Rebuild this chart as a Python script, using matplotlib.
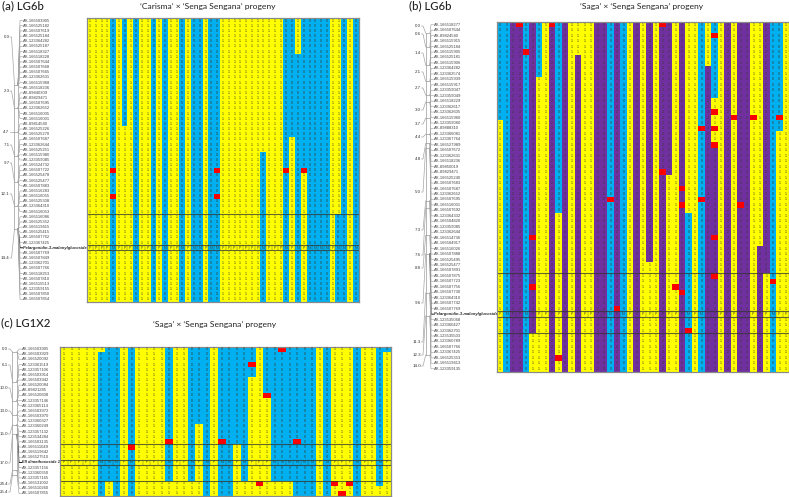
import numpy as np
import matplotlib
matplotlib.use('Agg')
import matplotlib.pyplot as plt
from matplotlib.colors import ListedColormap

plt.rcParams['font.family'] = ['Liberation Sans', 'DejaVu Sans']

# (a) 'Carisma' x 'Senga Sengana', LG6b
a_markers = ['166503905', '166525182', '166507619', '166525184', '123364282', '166525187', '166518327',
             '166518228', '166507644', '166507668', '166507665', '123362631', '166515968', '166518236',
             '89840309', '89829471', '166507695', '123362652', '166516005', '166516001', '89814540',
             '166525226', '166525270', '166507687', '123362644', '166525251', '166515980', '123359085',
             '166524732', '166507722', '166525478', '166525477', '166507883', '166516283', '166516055',
             '166525308', '123364310', '166516053', '166516086', '166525352', '166519415', '166525415',
             '166507762', '123367425', 'Pelargonidin-3-malonylglucoside 1', '166507769', '166507849',
             '123362701', '166507766', '166518253', '166507810', '166515513', '123359155', '166507850',
             '166507854']
a_top = '11110101011010110100100' + '11111111111' + '0010000011010'
a_switch = [(6, 21, 1), (30, 26, 0), (35, 23, 1), (36, 7, 0), (37, 30, 1), (43, 38, 0)]
a_missing = [(4, 29), (4, 34), (22, 29), (22, 34), (34, 29), (37, 29)]
a_cm = ['0.0', '2.3', '4.7', '7.1', '9.7', '12.1', '14.4']
a_cm_y = [37, 91, 132, 145, 163, 194, 258]
a_cm_first = [0, 14, 20, 23, 28, 33, 38]
a_rules = [38, 44, 45]

# (b) 'Saga' x 'Senga Sengana', LG6b
b_markers = ['166518277', '166507644', '89824540', '166515915', '166525184', '166515905', '166525181',
             '166515906', '123364282', '123362574', '166515939', '166515917', '123359047', '123359049',
             '166518229', '123362617', '123362605', '166515960', '123359060', '89888310', '123366081',
             '123367764', '166527989', '166507672', '123362631', '166518236', '89850019', '89829471',
             '166525240', '166507683', '166507687', '123362652', '166507695', '166516001', '166507692',
             '123364302', '166504820', '123359085', '123362644', '166514736', '166504917', '166516026',
             '166507888', '166525495', '166525477', '166507891', '166507875', '166507723', '166507756',
             '166507730', '123364310', '166507742', '166507769', 'Pelargonidin-3-malonylglucoside 1',
             '123535068', '123360427', '123362701', '123535503', '123360789', '166507766', '123367425',
             '166525353', '166519413', '123359135']
b_top = '0022020120' + '2111122020' + '1212122121' + '1010121221' + '12001'
b_switch = [(0, 18, 1), (6, 10, 1), (9, 35, 1), (12, 6, 2), (23, 44, 1), (26, 28, 1), (29, 35, 0), (32, 8, 2),
            (33, 14, 1), (33, 23, 2), (40, 41, 2), (41, 46, 1), (43, 20, 1), (5, 57, 1)]
b_missing = [(3, 0), (8, 0), (4, 5), (25, 0), (33, 2), (33, 16), (36, 17), (39, 17), (43, 17), (31, 19), (33, 19),
             (33, 22), (25, 27), (28, 30), (17, 32), (31, 32), (28, 33), (37, 33), (5, 39), (33, 39), (33, 46),
             (42, 47), (5, 48), (27, 48), (28, 49), (18, 52), (29, 56), (9, 61)]
b_cm = ['0.0', '0.6', '1.4', '2.1', '2.7', '3.0', '3.7', '4.4', '4.8', '5.0', '7.3', '7.6', '8.8', '9.6', '11.3',
        '12.3', '14.0']
b_cm_y = [26, 34, 53, 72, 88, 110, 124, 137, 159, 192, 230, 255, 268, 303, 342, 355, 366]
b_cm_first = [0, 1, 3, 8, 11, 15, 18, 19, 23, 29, 37, 43, 44, 47, 56, 60, 63]
b_rules = [46, 53, 54, 57]

# (c) 'Saga' x 'Senga Sengana', LG1X2
c_markers = ['166503905', '166503929', '166520092', '123361519', '123357106', '166503914', '166503942',
             '166520084', '89821285', '166520608', '123357146', '123365114', '166503972', '166503970',
             '123360327', '123360249', '123357132', '123534284', '166503135', '166511049', '166519642',
             '166527510', 'Ell dimethoxoside 1', '123357156', '123360350', '123357165', '166531002',
             '166510260', '166507855']
c_top = '111111' + '00' + '1' + '0' + '1111' + '0' + '11' + '000' + '1' + '00000' + '1' + '0000000' + '1' + '0' + '111' + '0' + '11' + '00'
c_switch = [(5, 1, 0), (18, 15, 1), (23, 19, 1), (25, 6, 1), (27, 10, 1), (14, 26, 1), (17, 26, 1), (6, 26, 1),
            (24, 26, 1), (28, 26, 1), (29, 26, 1), (30, 26, 1), (42, 27, 1), (43, 1, 1)]
c_missing = [(29, 0), (25, 3), (27, 9), (14, 18), (21, 18), (31, 18), (9, 19), (26, 26), (36, 26), (38, 26), (37, 28)]
c_cm = ['0.0', '6.1', '10.0', '13.0', '15.0', '17.0', '24.4', '25.4']
c_cm_y = [349, 365, 388, 411, 434, 463, 484, 492]
c_cm_first = [0, 3, 7, 12, 15, 19, 26, 28]
c_rules = [19, 22, 23, 26]

W, H = 789, 497
fig = plt.figure(figsize=(W / 100, H / 100), dpi=100)
over = fig.add_axes([0, 0, 1, 1])
over.set_xlim(0, W)
over.set_ylim(H, 0)
over.axis('off')

cmap = ListedColormap(['#00B0F0', '#FFFF00', '#7030A0', '#FF0000'])


def make_grid(top, switch, missing, nrows):
    grid = np.array([[int(v) for v in top]] * nrows)
    for col, row, val in switch:
        grid[row:, col] = val
    for col, row in missing:
        grid[row, col] = 3
    return grid


def draw_panel(box, top, switch, missing, markers, rules):
    x0, y0, x1, y1 = box
    nrows = len(markers)
    ncols = len(top)
    grid = make_grid(top, switch, missing, nrows)
    ax = fig.add_axes([x0 / W, 1 - y1 / H, (x1 - x0) / W, (y1 - y0) / H])
    ax.pcolormesh(np.arange(ncols + 1), np.arange(nrows + 1), grid, cmap=cmap, vmin=-0.5, vmax=3.5)
    ax.set_xlim(0, ncols)
    ax.set_ylim(nrows, 0)
    ax.set_xticks([])
    ax.set_yticks([])
    for s in ax.spines.values():
        s.set_color('#8a8a8a')
        s.set_linewidth(0.9)
    trait = [i for i, m in enumerate(markers) if not m[0].isdigit()][0]
    for r in range(nrows):
        for c in range(ncols):
            v = grid[r, c]
            if r == trait:
                txt = 'N' if v == 0 else 'P'
            else:
                txt = '--' if v == 3 else str(v)
            ax.text(c + 0.5, r + 0.5, txt, ha='center', va='center', fontsize=2.6, color='#3a3a30')
    for c in range(ncols + 1):
        ax.plot([c, c], [trait, trait + 1], color='#444444', lw=0.25)
    for r in rules:
        ax.axhline(r, color='#333333', lw=0.8, alpha=0.75)
    return ax


def draw_map(box, bar, cm_vals, cm_y, cm_first, markers, lab_x, cm_x, scale):
    x0, y0, x1, y1 = box
    pitch = (y1 - y0) / len(markers)
    bar_l, bar_r, bar_top = bar
    cm_num = [float(v) for v in cm_vals]
    pos = [bar_top + scale * v for v in cm_num]
    over.plot([bar_l, bar_l], [pos[0], pos[-1]], color='#9a9a9a', lw=0.5)
    over.plot([bar_r, bar_r], [pos[0], pos[-1]], color='#9a9a9a', lw=0.5)
    trait = [i for i, m in enumerate(markers) if not m[0].isdigit()][0]
    for i, val in enumerate(cm_vals):
        over.plot([bar_l, bar_r], [pos[i], pos[i]], color='#9a9a9a', lw=0.5)
        over.text(cm_x, cm_y[i], val, ha='right', va='center', fontsize=3.2, color='#333333')
        over.plot([cm_x + 0.5, cm_x + 2, bar_l], [cm_y[i], cm_y[i], pos[i]], color='#a5a5a5', lw=0.5)
        last = cm_first[i + 1] if i + 1 < len(cm_first) else len(markers)
        for r in range(cm_first[i], last):
            ly = y0 + pitch * (r + 0.5)
            col, w = ('#222222', 0.7) if r == trait else ('#a5a5a5', 0.45)
            over.plot([bar_r, lab_x - 3, lab_x - 0.5], [pos[i], ly, ly], color=col, lw=w)
    for r, m in enumerate(markers):
        ly = y0 + pitch * (r + 0.5)
        if r == trait:
            over.text(lab_x, ly, m, ha='left', va='center', fontsize=2.85, fontweight='bold', fontstyle='italic',
                      color='#222222')
        else:
            over.text(lab_x, ly, 'AX-' + m, ha='left', va='center', fontsize=3.0, color='#444444')


box_a = (87, 18, 358.5, 302)
box_b = (497, 22, 789, 371.5)
box_c = (60, 346.5, 391, 496)

draw_panel(box_a, a_top, a_switch, a_missing, a_markers, a_rules)
draw_panel(box_b, b_top, b_switch, b_missing, b_markers, b_rules)
draw_panel(box_c, c_top, c_switch, c_missing, c_markers, c_rules)

draw_map(box_a, (14.5, 18, 85), a_cm, a_cm_y, a_cm_first, a_markers, 23, 9.5, 10)
draw_map(box_b, (425.7, 430, 33), b_cm, b_cm_y, b_cm_first, b_markers, 434, 421, 23)
draw_map(box_c, (12.5, 17, 352), c_cm, c_cm_y, c_cm_first, c_markers, 22, 8, 4.85)

for txt, x, y in [('(a) LG6b', 2, 6), ('(b) LG6b', 409, 5.5), ('(c) LG1X2', 1, 322.5)]:
    over.text(x, y, txt, fontsize=8.2, family='Lato', fontweight='medium', ha='left', va='center', color='#222222')
for txt, x, y in [('\u2018Carisma\u2019 \u00d7 \u2018Senga Sengana\u2019 progeny', 207.5, 6),
                  ('\u2018Saga\u2019 \u00d7 \u2018Senga Sengana\u2019 progeny', 642, 6.5),
                  ('\u2018Saga\u2019 \u00d7 \u2018Senga Sengana\u2019 progeny', 214.5, 325)]:
    over.text(x, y, txt, fontsize=6.1, family='Lato', ha='center', va='center', color='#222222')

fig.savefig('out.png', dpi=100)
